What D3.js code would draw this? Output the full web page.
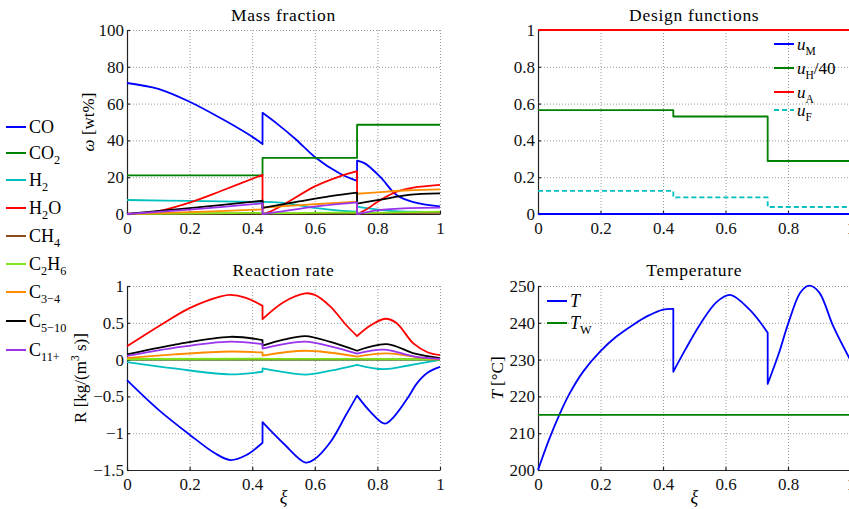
<!DOCTYPE html>
<html>
<head>
<meta charset="utf-8">
<script src="https://cdn.jsdelivr.net/npm/d3@7"></script>
<style>
body { margin: 0; background: #fff; }
</style>
</head>
<body>
<div id="main"></div>
<script>
// ---- datos (segmentos separados por los saltos en xi = 0.433 y 0.735)
var species = ["CO", "CO_2", "H_2", "H_2O", "CH_4", "C_2H_6", "C_{3−4}", "C_{5−10}", "C_{11+}"];
var speciesColors = ["#0000ff", "#008000", "#00bfbf", "#ff0000", "#8c4a1c", "#80e619", "#ff8c00", "#000000", "#9933ee"];

var xTicks = [0, 0.2, 0.4, 0.6, 0.8, 1];
var massTicks = [0, 20, 40, 60, 80, 100];
var designTicks = [0, 0.2, 0.4, 0.6, 0.8, 1];
var rateTicks = [-1.5, -1, -0.5, 0, 0.5, 1];
var tempTicks = [200, 210, 220, 230, 240, 250];

// Fracción másica [wt%]
var massCO = [[[0,71.2],[0.1,68],[0.2,61],[0.3,52],[0.4,42],[0.433,38]],
  [[0.433,55],[0.48,49],[0.54,40.5],[0.6,31],[0.68,22],[0.735,18]],
  [[0.735,29],[0.76,27.5],[0.81,20],[0.86,10.5],[0.915,6.5],[1,4.2]]];
var massCO2 = [[[0,21],[0.433,21]], [[0.433,30.5],[0.735,30.5]], [[0.735,48.5],[1,48.5]]];
var massH2 = [[[0,7.6],[0.2,7.1],[0.433,6.6]],
  [[0.433,6.6],[0.5,6.1],[0.6,3.3],[0.68,1.8],[0.735,1.3]],
  [[0.735,4],[0.81,2.2],[0.87,1.4],[1,1.2]]];
var massH2O = [[[0,0],[0.1,1.6],[0.2,6.2],[0.3,12.5],[0.433,21.3]],
  [[0.433,0],[0.46,1.5],[0.5,5],[0.6,15],[0.68,20.5],[0.735,23.3]],
  [[0.735,0],[0.76,2],[0.81,7.6],[0.86,12],[0.915,14.3],[1,15.8]]];
var massCH4 = [[[0,0],[0.433,0.3]], [[0.433,0.2],[0.735,0.5]], [[0.735,0.3],[1,0.6]]];
var massC2H6 = [[[0,0],[0.433,0.6]], [[0.433,0.3],[0.735,0.9]], [[0.735,0.5],[1,1.3]]];
var massC34 = [[[0,0],[0.2,1],[0.433,2.5]],
  [[0.433,3.5],[0.49,4.1],[0.6,5.3],[0.735,6.7]],
  [[0.735,11],[0.8,11.8],[0.9,12.9],[1,13.4]]];
var massC510 = [[[0,0],[0.2,3.2],[0.433,7.2]],
  [[0.433,3.3],[0.55,6.8],[0.65,9.7],[0.735,11.6]],
  [[0.735,5.6],[0.81,7.8],[0.9,10.4],[1,11.2]]];
var massC11 = [[[0,0],[0.2,2.4],[0.433,5.8]],
  [[0.433,0],[0.49,1.3],[0.6,4],[0.735,6.3]],
  [[0.735,0],[0.8,2],[0.9,3.2],[1,3.5]]];

// Funciones de diseño
var designLabels = ["$u$_M", "$u$_H/40", "$u$_A", "$u$_F"];
var designColors = ["#0000ff", "#008000", "#ff0000", "#00bfbf"];
var designM = [[[0,0],[1,0]]];
var designH = [[[0,0.565],[0.433,0.565]], [[0.433,0.53],[0.735,0.53]], [[0.735,0.288],[1,0.288]]];
var designA = [[[0,1],[1,1]]];
var designF = [[[0,0.126],[0.433,0.126]], [[0.433,0.09],[0.735,0.09]], [[0.735,0.038],[1,0.038]]];

// Velocidad de reacción [kg/(m3 s)]
var rateCO = [[[0,-0.28],[0.1,-0.68],[0.2,-1.02],[0.28,-1.27],[0.33,-1.365],[0.38,-1.3],[0.433,-1.13]],
  [[0.433,-0.85],[0.5,-1.14],[0.57,-1.4],[0.6,-1.35],[0.65,-1.12],[0.7,-0.75],[0.735,-0.49]],
  [[0.735,-0.49],[0.78,-0.72],[0.824,-0.87],[0.852,-0.78],[0.9,-0.5],[0.925,-0.33],[0.96,-0.18],[1,-0.1]]];
var rateCO2 = [[[0,0],[1,0]]];
var rateH2 = [[[0,-0.035],[0.15,-0.12],[0.33,-0.2],[0.433,-0.165]],
  [[0.433,-0.12],[0.5,-0.17],[0.57,-0.205],[0.65,-0.15],[0.735,-0.07]],
  [[0.735,-0.07],[0.82,-0.13],[0.9,-0.08],[1,-0.005]]];
var rateH2O = [[[0,0.18],[0.1,0.45],[0.2,0.7],[0.3,0.86],[0.33,0.88],[0.38,0.84],[0.433,0.73]],
  [[0.433,0.55],[0.5,0.78],[0.57,0.9],[0.6,0.88],[0.65,0.72],[0.7,0.47],[0.735,0.32]],
  [[0.735,0.32],[0.78,0.47],[0.825,0.555],[0.86,0.5],[0.915,0.22],[0.96,0.1],[1,0.06]]];
var rateCH4 = [[[0,0.002],[1,0.002]]];
var rateC2H6 = [[[0,0.008],[0.433,0.012]], [[0.433,0.01],[0.735,0.01]], [[0.735,0.01],[1,0.002]]];
var rateC34 = [[[0,0.02],[0.15,0.07],[0.33,0.11],[0.433,0.097]],
  [[0.433,0.055],[0.57,0.12],[0.735,0.04]],
  [[0.735,0.04],[0.83,0.085],[0.93,0.03],[1,0.003]]];
var rateC510 = [[[0,0.07],[0.15,0.2],[0.33,0.31],[0.433,0.265]],
  [[0.433,0.19],[0.5,0.27],[0.57,0.32],[0.65,0.24],[0.735,0.12]],
  [[0.735,0.12],[0.83,0.21],[0.92,0.08],[1,0.02]]];
var rateC11 = [[[0,0.05],[0.15,0.16],[0.33,0.245],[0.433,0.21]],
  [[0.433,0.15],[0.5,0.21],[0.57,0.245],[0.65,0.18],[0.735,0.08]],
  [[0.735,0.08],[0.82,0.135],[0.92,0.04],[1,0.01]]];

// Temperatura [°C]
var tempLabels = ["$T$", "$T$_W"];
var tempColors = ["#0000ff", "#008000"];
var tempT = [[[0,200],[0.035,208.2],[0.07,215.3],[0.1,220.6],[0.145,226.8],[0.2,232.3],[0.25,236.2],[0.305,239.5],[0.35,241.8],[0.4,243.6],[0.433,243.8]],
  [[0.433,226.7],[0.47,232.5],[0.518,239.5],[0.572,245.7],[0.615,247.6],[0.678,243.5],[0.735,237.3]],
  [[0.735,223.4],[0.77,231.5],[0.801,239.9],[0.838,248],[0.862,250],[0.875,250],[0.902,248],[0.945,239],[1,229.8]]];
var tempW = [[[0,215],[1,215]]];

var FONT = "'Liberation Serif', 'Times New Roman'";
var W = 849, H = 509;
var svg = d3.select("#main").append("svg").attr("width", W).attr("height", H);
var fmt = d3.format("");

// Texto con subíndices (_), superíndices (^) y cursiva ($...$)
function richText(sel, str, size) {
	var re = /\$([^$]*)\$|_(\{[^}]*\}|.)|\^(\{[^}]*\}|.)|([^$_^]+)/g;
	var m, shift = 0;
	while ((m = re.exec(str))) {
		var t = sel.append("tspan").attr("font-size", size);
		var target = 0, txt;
		if (m[1] !== undefined) { txt = m[1]; t.attr("font-style", "italic"); }
		else if (m[2] !== undefined) { txt = m[2].replace(/[{}]/g, ""); target = size * 0.3; t.attr("font-size", size * 0.68); }
		else if (m[3] !== undefined) { txt = m[3].replace(/[{}]/g, ""); target = -size * 0.4; t.attr("font-size", size * 0.68); }
		else txt = m[4];
		t.attr("dy", target - shift).text(txt);
		shift = target;
	}
	return sel;
}

function panel(p) {
	var g = svg.append("g").attr("transform", "translate(" + p.left + "," + p.top + ")");
	var x = d3.scaleLinear().domain([0, 1]).range([0, p.w]);
	var y = d3.scaleLinear().domain(p.yDomain).range([p.h, 0]);

	// rejilla punteada
	g.append("g").attr("class", "grid").attr("transform", "translate(0," + p.h + ")")
		.call(d3.axisBottom(x).tickValues(xTicks.slice(1)).tickSize(-p.h).tickFormat(""));
	g.append("g").attr("class", "grid")
		.call(d3.axisLeft(y).tickValues(p.yTicks.slice(1)).tickSize(-p.w).tickFormat(""));
	g.selectAll(".grid path").remove();
	g.selectAll(".grid line").attr("stroke", "#9a9a9a").attr("stroke-width", 1).attr("stroke-dasharray", "1,2");

	g.append("g").attr("class", "ax").attr("transform", "translate(0," + p.h + ")")
		.call(d3.axisBottom(x).tickValues(xTicks).tickSize(-3).tickSizeOuter(0).tickPadding(8).tickFormat(fmt));
	g.append("g").attr("class", "ax")
		.call(d3.axisLeft(y).tickValues(p.yTicks).tickSize(-3).tickSizeOuter(0).tickPadding(3).tickFormat(fmt));
	g.selectAll(".ax path, .ax line").attr("stroke", "#222").attr("stroke-width", 1.2);
	g.selectAll(".ax text").attr("font-size", 17).attr("fill", "#111");

	richText(g.append("text").attr("x", p.w / 2).attr("y", p.titleY).attr("text-anchor", "middle")
		.style("letter-spacing", "0.7px"), p.title, 17.5);
	if (p.ylabel)
		richText(g.append("text").attr("text-anchor", "middle")
			.attr("transform", "translate(" + (-p.ylabelX) + "," + (p.h / 2) + ") rotate(-90)"), p.ylabel, 17);
	if (p.xlabel)
		richText(g.append("text").attr("x", p.w / 2).attr("y", p.h + 33).attr("text-anchor", "middle"), p.xlabel, 18);

	var plot = g.append("g");
	return { g: g, plot: plot, x: x, y: y };
}

function drawSeries(pn, segs, color, dash) {
	var line = d3.line().x(function(d) { return pn.x(d[0]); }).y(function(d) { return pn.y(d[1]); })
		.curve(d3.curveCatmullRom.alpha(0.5));
	var d = segs.map(function(s, i) { var p = line(s); return i ? "L" + p.slice(1) : p; }).join("");
	pn.plot.append("path").attr("d", d)
		.attr("fill", "none")
		.attr("stroke", color)
		.attr("stroke-width", 1.8)
		.attr("stroke-linejoin", "round")
		.attr("stroke-dasharray", dash || null);
}

function legend(x, ys, labels, colors, dashes, size) {
	labels.forEach(function(lab, i) {
		svg.append("line")
			.attr("x1", x).attr("x2", x + 20).attr("y1", ys[i]).attr("y2", ys[i])
			.attr("stroke", colors[i]).attr("stroke-width", 2)
			.attr("stroke-dasharray", dashes && dashes[i] ? dashes[i] : null);
		richText(svg.append("text").attr("x", x + 23).attr("y", ys[i] + 6), lab, size);
	});
}

var mass = panel({ left: 127, top: 30, w: 313, h: 184, yDomain: [0, 100], yTicks: massTicks,
	title: "Mass fraction", titleY: -9, ylabel: "$ω$ [wt%]", ylabelX: 33 });
var design = panel({ left: 538, top: 30, w: 312.5, h: 184, yDomain: [0, 1], yTicks: designTicks,
	title: "Design functions", titleY: -9 });
var rate = panel({ left: 127, top: 286, w: 313, h: 184, yDomain: [-1.5, 1], yTicks: rateTicks,
	title: "Reaction rate", titleY: -10, ylabel: "R [kg/(m^3 s)]", ylabelX: 41, xlabel: "$ξ$" });
var temp = panel({ left: 538, top: 286, w: 312.5, h: 184, yDomain: [200, 250], yTicks: tempTicks,
	title: "Temperature", titleY: -10, ylabel: "$T$ [°C]", ylabelX: 35, xlabel: "$ξ$" });

[massCO, massCO2, massH2, massH2O, massCH4, massC2H6, massC34, massC510, massC11].forEach(function(s, i) {
	drawSeries(mass, s, speciesColors[i]);
});
[rateCO, rateCO2, rateH2, rateH2O, rateCH4, rateC2H6, rateC34, rateC510, rateC11].forEach(function(s, i) {
	drawSeries(rate, s, speciesColors[i]);
});
[designM, designH, designA, designF].forEach(function(s, i) {
	drawSeries(design, s, designColors[i], i === 3 ? "5,3" : null);
});
[tempT, tempW].forEach(function(s, i) { drawSeries(temp, s, tempColors[i]); });

legend(6, [127, 153, 180, 208, 236, 264, 292, 321, 350], species, speciesColors, null, 18);
legend(774, [44, 68, 92, 110], designLabels, designColors, [null, null, null, "5,3"], 17);
legend(547, [301, 323], tempLabels, tempColors, null, 18);

// fuente serif en todos los textos (estilo en línea)
svg.selectAll("g").attr("font-family", null);
svg.selectAll("text").style("font-family", FONT);
</script>
</body>
</html>
